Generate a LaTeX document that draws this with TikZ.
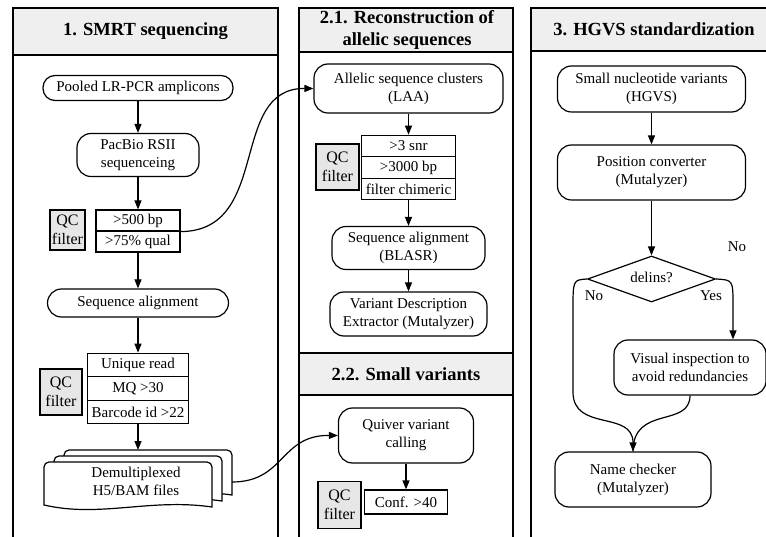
\documentclass[tikz,border=0pt]{standalone}
\usepackage{fontspec}
\setmainfont{Liberation Serif}
\usetikzlibrary{arrows.meta,shapes.geometric}
\definecolor{headgray}{HTML}{EFEFEF}
\definecolor{qcgray}{HTML}{E6E6E6}
\tikzset{
  proc/.style={draw, rounded corners=14pt, align=center, inner sep=0pt, line width=1.2pt, font=\fontsize{15}{18}\selectfont},
  cell/.style={draw, inner sep=0pt, line width=1.2pt, font=\fontsize{15}{18}\selectfont},
  qcbox/.style={draw, fill=qcgray, align=center, inner sep=0pt, line width=1.2pt, font=\fontsize{16}{19.5}\selectfont},
  header/.style={align=center, font=\fontsize{18.5}{21.5}\selectfont\bfseries},
  panel/.style={draw, line width=1.4pt},
  flow/.style={-{Triangle[length=9pt,width=7pt]}, line width=1.2pt},
  lbl/.style={font=\fontsize{15}{18}\selectfont}
}
\begin{document}
\begin{tikzpicture}[x=1pt,y=-1pt]
    \useasboundingbox (0,0) rectangle (766,537);
    \clip (0,0) rectangle (766,537);
    % panels
    \draw[panel] (13,8) rectangle (278,560);
    \draw[panel, fill=headgray] (13,8) rectangle (278,55);
    \draw[panel] (299,8) rectangle (513,560);
    \draw[panel, fill=headgray] (299,8) rectangle (513,52);
    \draw[panel, fill=headgray] (299,353) rectangle (513,395);
    \draw[panel] (531,8) rectangle (780,560);
    \draw[panel, fill=headgray] (531,8) rectangle (780,51);
    \node[header] (h1) at (145.5,31) {1. SMRT sequencing};
    \node[header] (h21) at (407,30) {2.1. Reconstruction of\\allelic sequences};
    \node[header] (h22) at (406,374) {2.2. Small variants};
    \node[header] (h3) at (654,29) {3. HGVS standardization};

    % 1. SMRT sequencing
    \node[proc, rounded corners=12pt, minimum width=190, minimum height=25] (pooled) at (138,88) {Pooled LR-PCR amplicons};
    \node[proc, minimum width=122, minimum height=43] (pacbio) at (138,155) {PacBio RSII\\sequenceing};
    \node[cell, minimum width=84, minimum height=21] (f1a) at (138,220.5) {>500 bp};
    \node[cell, minimum width=84, minimum height=21] (f1b) at (138,241.5) {>75\% qual};
    \node[qcbox, minimum width=35, minimum height=40] (qc1) at (67.5,230) {QC\\filter};
    \node[proc, minimum width=181, minimum height=28] (seqal) at (138,303) {Sequence alignment};
    \node[cell, minimum width=101, minimum height=23.5] (f2a) at (138,365) {Unique read};
    \node[cell, minimum width=101, minimum height=23.5] (f2b) at (138,388.5) {MQ >30};
    \node[cell, minimum width=101, minimum height=23.5] (f2c) at (138,412) {Barcode id >22};
    \node[qcbox, minimum width=42, minimum height=46] (qc2) at (61,392) {QC\\filter};
    \foreach \dx/\dy in {20/-12,10/-6,0/0}
        \draw[line width=1.2pt, fill=white, shift={(\dx,\dy)}] (44,505) [rounded corners=5pt] -- (44,462) -- (212,462) [sharp corners] -- (212,507) .. controls (150,498) and (100,518) .. (44,505) -- cycle;
    \coordinate (docT) at (138,450);
    \coordinate (docR) at (232,482);
    \node[lbl, align=center] (demux) at (136,481) {Demultiplexed\\H5/BAM files};
    \draw[flow] (pooled) -- (pacbio);
    \draw[flow] (pacbio) -- (f1a);
    \draw[flow] (f1b) -- (seqal);
    \draw[flow] (seqal) -- (f2a);
    \draw[flow] (f2c) -- (docT);

    % 2.1. Reconstruction of allelic sequences
    \node[proc, minimum width=189, minimum height=49] (laa) at (408.5,88.5) {Allelic sequence clusters\\(LAA)};
    \node[cell, minimum width=94, minimum height=21.5] (f3a) at (408.5,146) {>3 snr};
    \node[cell, minimum width=94, minimum height=21.5] (f3b) at (408.5,167.5) {>3000 bp};
    \node[cell, minimum width=94, minimum height=21.5] (f3c) at (408.5,189) {filter chimeric};
    \node[qcbox, minimum width=43, minimum height=46] (qc3) at (337.5,167) {QC\\filter};
    \node[proc, minimum width=153, minimum height=43] (blasr) at (408.5,248) {Sequence alignment\\(BLASR)};
    \node[proc, minimum width=157, minimum height=44] (vde) at (408.5,314) {Variant Description\\Extractor (Mutalyzer)};
    \draw[flow] (laa) -- (f3a);
    \draw[flow] (f3c) -- (blasr);
    \draw[flow] (blasr) -- (vde);

    % 2.2. Small variants
    \node[proc, minimum width=135, minimum height=55] (quiver) at (406,435.5) {Quiver variant\\calling};
    \node[cell, minimum width=83, minimum height=24] (conf) at (406,502) {Conf. >40};
    \node[qcbox, minimum width=43, minimum height=47] (qc4) at (339.5,505) {QC\\filter};
    \draw[flow] (quiver) -- (conf);

    % links between panels
    \draw[flow] (f1a.south east) .. controls (272,231) and (228,88) .. (laa.west);
    \draw[flow] (docR) .. controls (285,482) and (280,435) .. (quiver.west);

    % 3. HGVS standardization
    \node[proc, minimum width=188, minimum height=46] (snv) at (651.5,89) {Small nucleotide variants\\(HGVS)};
    \node[proc, minimum width=188, minimum height=55] (pos) at (651.5,172.5) {Position converter\\(Mutalyzer)};
    \node[diamond, draw, line width=1.2pt, inner sep=0pt, minimum width=128, minimum height=46] (dia) at (651.5,279) {};
    \node[lbl] (dialbl) at (651.5,277) {delins?};
    \node[proc, minimum width=152, minimum height=55] (vis) at (690,367.5) {Visual inspection to\\avoid redundancies};
    \node[proc, minimum width=156, minimum height=55] (name) at (633,479.5) {Name checker\\(Mutalyzer)};
    \node[lbl] (no1) at (737,247) {No};
    \node[lbl] (no2) at (594,296) {No};
    \node[lbl] (yes) at (711,296) {Yes};
    \draw[flow] (snv) -- (pos);
    \draw[flow] (pos) -- (dia);
    \draw[flow] (dia.east) .. controls (733,280) .. (733,305) -- ([xshift=43pt]vis.north);
    \draw[flow] (dia.west) .. controls (573,280) .. (573,310) -- (573,392) .. controls (573,432) and (633,410) .. (name.north);
    \draw[line width=1.2pt] (vis.south) .. controls (690,428) and (633,405) .. (name.north);
\end{tikzpicture}
\end{document}
